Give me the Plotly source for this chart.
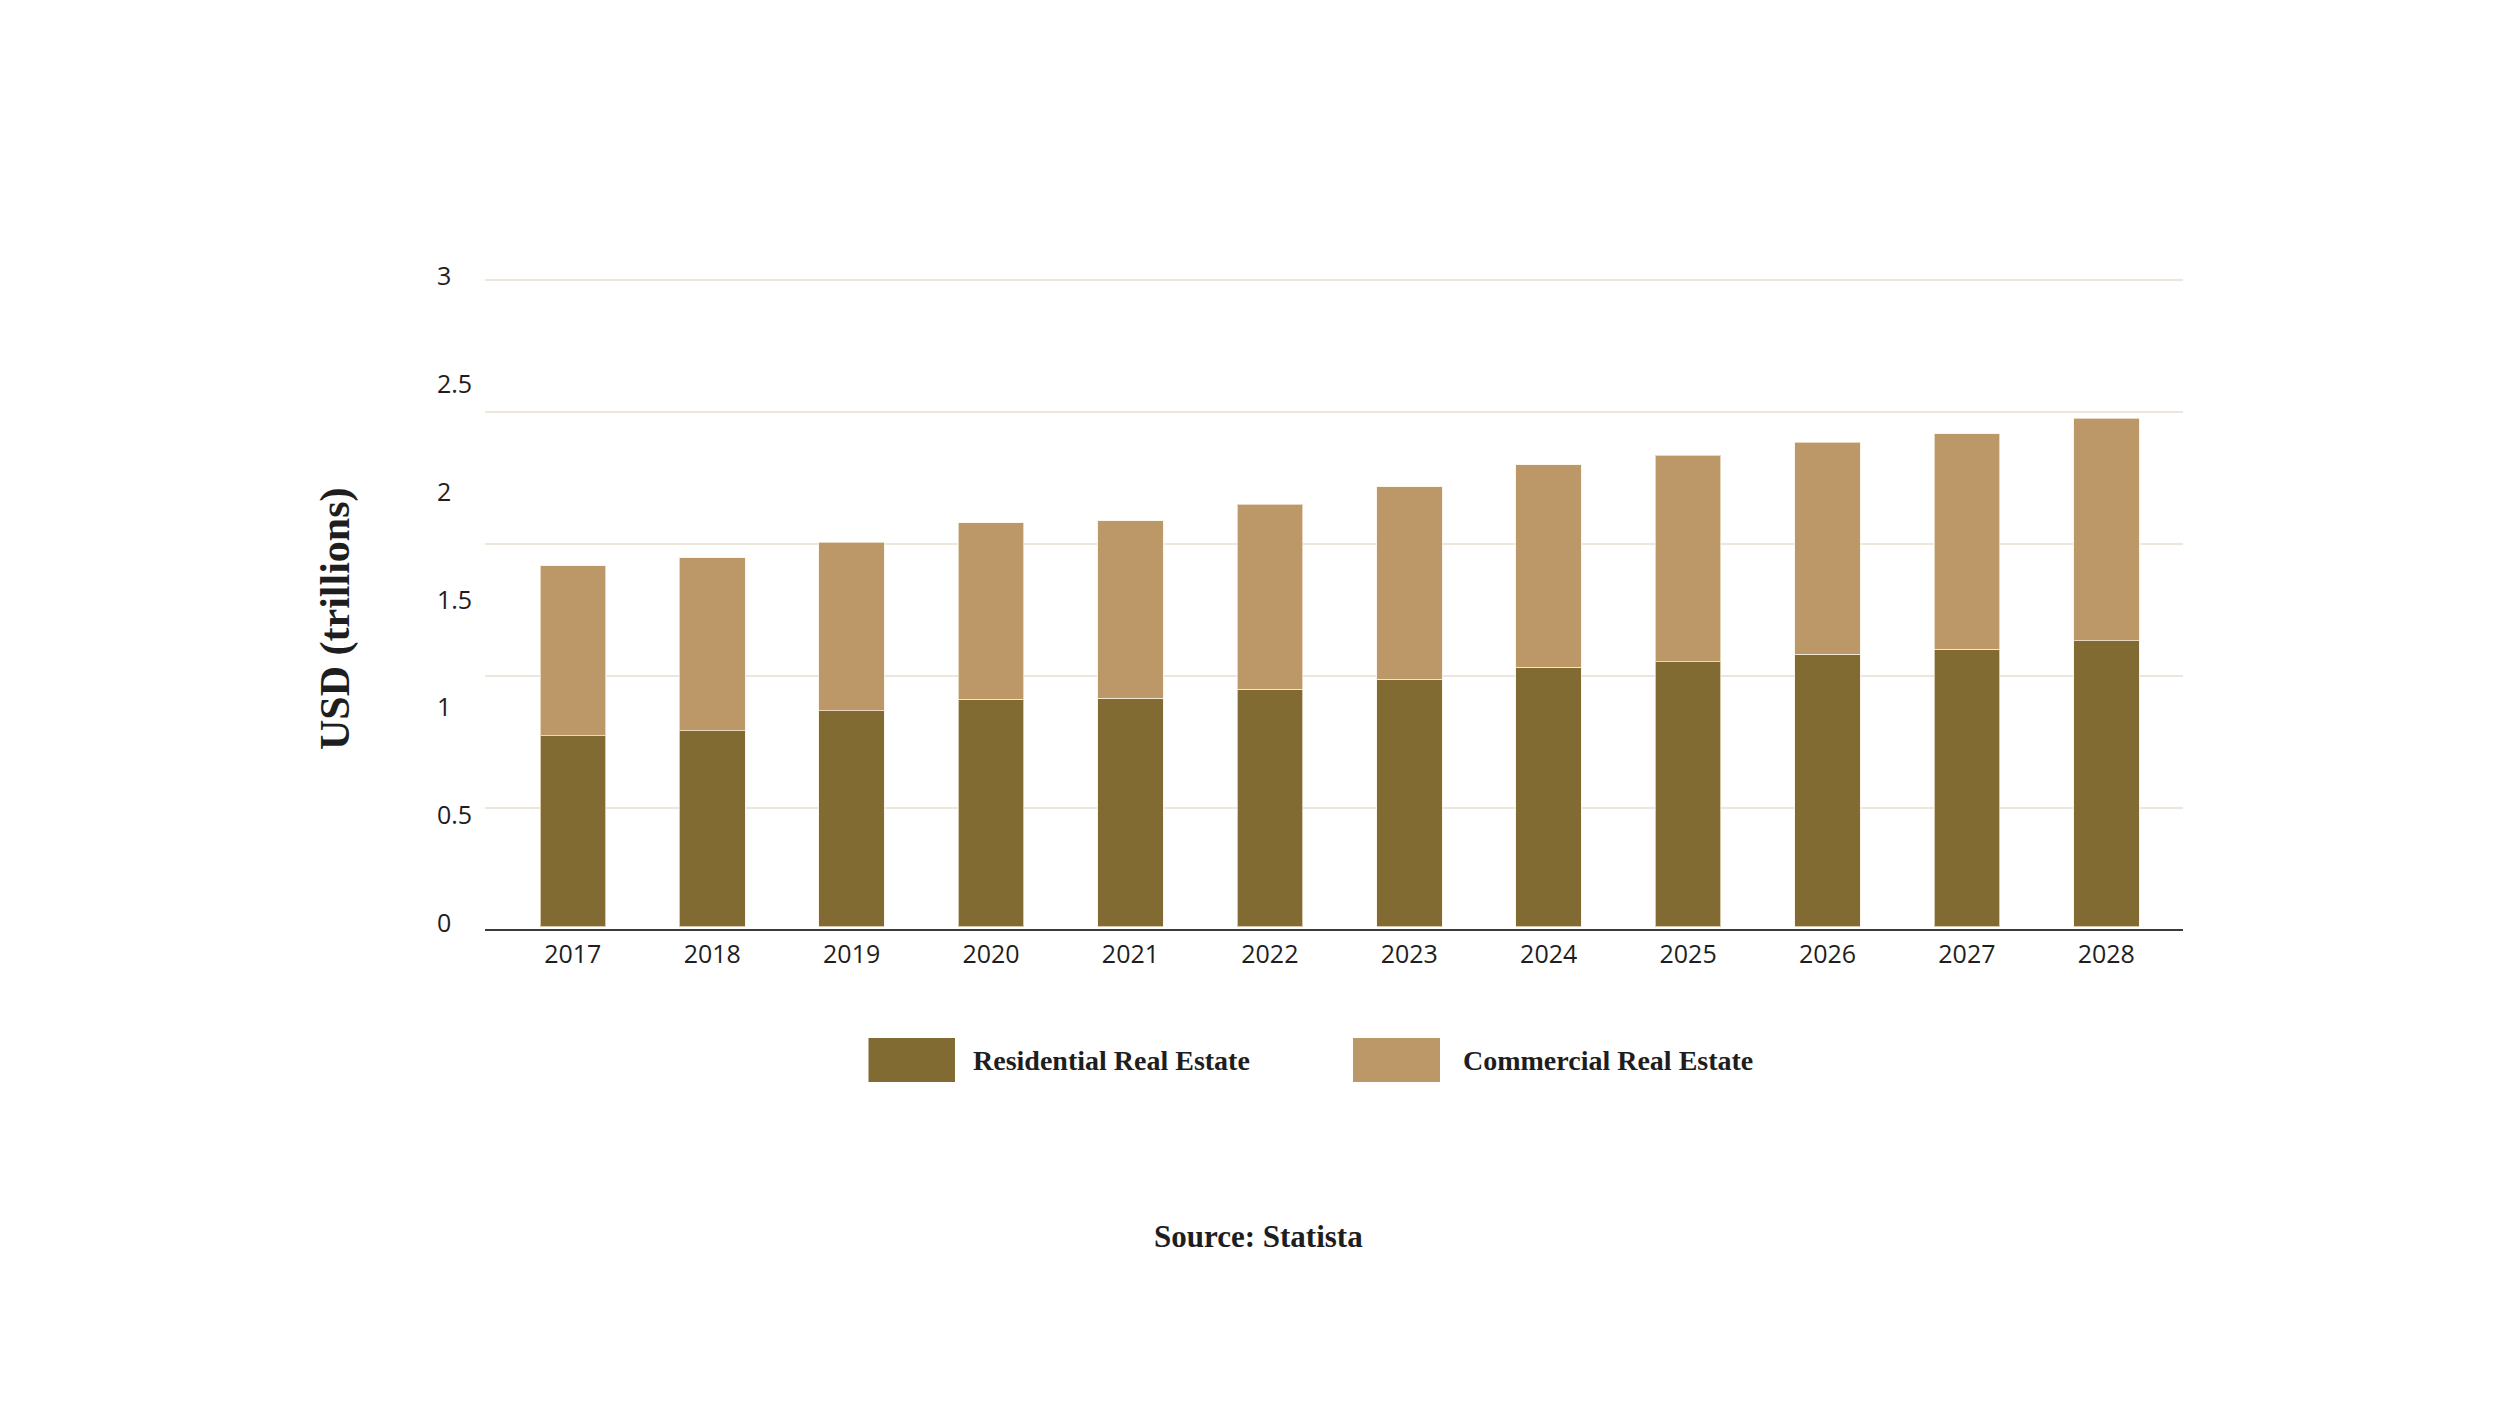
import plotly.graph_objects as go

# ---------------- data ----------------
years = ["2017", "2018", "2019", "2020", "2021", "2022",
         "2023", "2024", "2025", "2026", "2027", "2028"]
residential = [0.886, 0.910, 1.003, 1.056, 1.061, 1.103,
               1.149, 1.205, 1.231, 1.265, 1.288, 1.328]
commercial = [0.789, 0.802, 0.782, 0.819, 0.824, 0.858,
              0.894, 0.939, 0.958, 0.984, 1.000, 1.033]
y_tick_values = [0, 0.5, 1, 1.5, 2, 2.5, 3]
y_tick_labels = ["0", "0.5", "1", "1.5", "2", "2.5", "3"]
series_names = ["Residential Real Estate", "Commercial Real Estate"]
axis_title = "USD (trillions)"
source_text = "Source: Statista"

# ---------------- style ----------------
RES_COLOR = "#826A33"
COM_COLOR = "#BC9868"
GRID_COLOR = "#EDE6DA"
TEXT_COLOR = "#1E1E1E"
SANS = "Open Sans, Noto Sans, sans-serif"
SERIF = "Liberation Serif, DejaVu Serif, serif"

W, H = 2500, 1406
ML, MR, MT, MB = 430, 317, 276, 477
PW = W - ML - MR
PH = H - MT - MB
PLOT_LEFT = 485


def px_x(px):
    return (px - ML) / PW


def px_y(py):
    return (H - MB - py) / PH


fig = go.Figure()
bar_line = dict(color="rgba(250,242,226,0.7)", width=1)
fig.add_trace(go.Bar(x=years, y=residential, name=series_names[0],
                     marker=dict(color=RES_COLOR, line=bar_line),
                     width=0.47, showlegend=False))
fig.add_trace(go.Bar(x=years, y=commercial, name=series_names[1],
                     marker=dict(color=COM_COLOR, line=bar_line),
                     width=0.47, showlegend=False))
# invisible carrier trace for the label axis
fig.add_trace(go.Scatter(x=years, y=residential, yaxis="y2", mode="lines",
                         line=dict(width=0), opacity=0, hoverinfo="skip",
                         showlegend=False))

fig.update_layout(
    width=W, height=H,
    margin=dict(l=ML, r=MR, t=MT, b=MB, pad=0),
    paper_bgcolor="white", plot_bgcolor="white",
    barmode="stack",
    showlegend=False,
    xaxis=dict(
        domain=[px_x(PLOT_LEFT), 1],
        type="category",
        range=[-0.63, 11.55],
        showline=True, linecolor="#3A3A3A", linewidth=2,
        showgrid=False, zeroline=False, ticks="",
        tickfont=dict(family=SANS, size=25, color=TEXT_COLOR),
        ticklabelstandoff=2,
        automargin=False,
    ),
    yaxis=dict(
        range=[-0.01, 3.02],
        showgrid=True, gridcolor=GRID_COLOR, gridwidth=1.5,
        tick0=3, dtick=0.6125,
        showticklabels=False, zeroline=False, showline=False, ticks="",
        automargin=False,
    ),
    yaxis2=dict(
        overlaying="y", side="right", anchor="free", position=0,
        range=[-0.027, 3.003],
        tickvals=y_tick_values, ticktext=y_tick_labels,
        showgrid=False, zeroline=False, showline=False, ticks="",
        tickfont=dict(family=SANS, size=25, color=TEXT_COLOR),
        ticklabelstandoff=6,
        automargin=False,
    ),
)

# axis title
fig.add_annotation(text=axis_title, xref="paper", yref="paper",
                   x=px_x(335), y=px_y(619), xanchor="center", yanchor="middle",
                   textangle=-90, showarrow=False,
                   font=dict(family=SERIF, size=42, color=TEXT_COLOR, weight="bold"))

# custom legend
legend_items = [
    (series_names[0], RES_COLOR, 868.5, 955, 971),
    (series_names[1], COM_COLOR, 1353, 1440, 1461),
]
for name, color, x0, x1, tx in legend_items:
    fig.add_shape(type="rect", xref="paper", yref="paper",
                  x0=px_x(x0), x1=px_x(x1), y0=px_y(1038), y1=px_y(1082),
                  fillcolor=color, line=dict(width=0))
    fig.add_annotation(text=name, xref="paper", yref="paper",
                       x=px_x(tx), y=px_y(1060), xanchor="left", yanchor="middle",
                       showarrow=False,
                       font=dict(family=SERIF, size=28, color=TEXT_COLOR, weight="bold"))

# source
fig.add_annotation(text=source_text, xref="paper", yref="paper",
                   x=px_x(1258), y=px_y(1236), xanchor="center", yanchor="middle",
                   showarrow=False,
                   font=dict(family=SERIF, size=31, color=TEXT_COLOR, weight="bold"))

fig.write_html("out.html",
               config={"displayModeBar": False},
               post_script="document.body.style.margin='0';document.body.style.overflow='hidden';")
